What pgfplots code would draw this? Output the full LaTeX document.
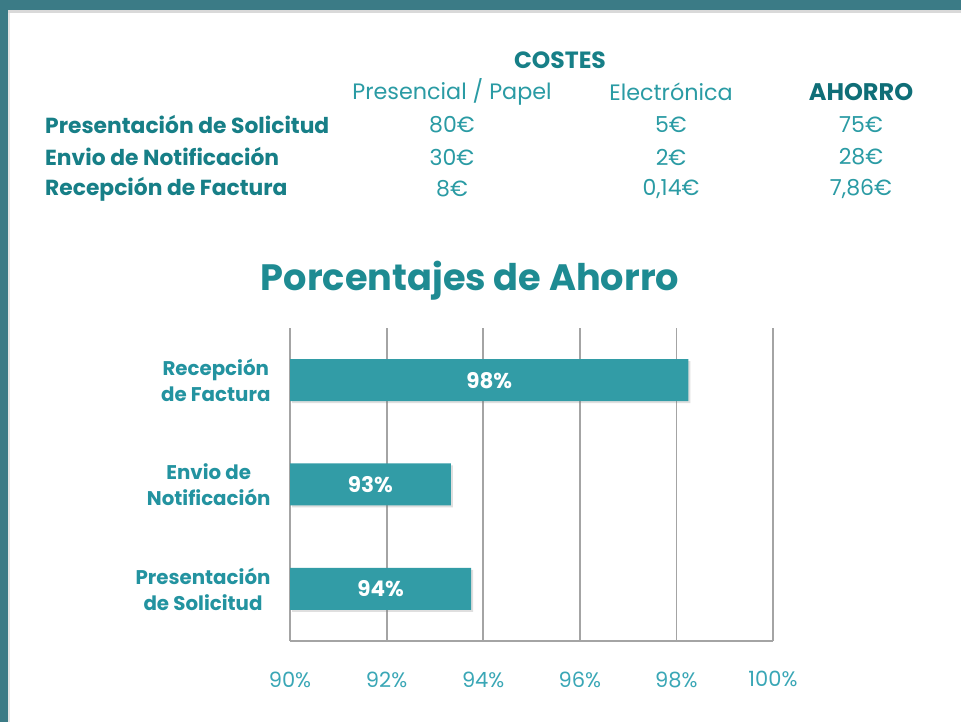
\documentclass[border=0pt]{standalone}
\usepackage{pgfplots}
\pgfplotsset{compat=1.18}
\usepackage{fontspec}
\setmainfont{Poppins}
\usetikzlibrary{shadows}
\definecolor{frame}{HTML}{3B7B86}
\definecolor{boldteal}{HTML}{177F87}
\definecolor{darkteal}{HTML}{0F6E77}
\definecolor{regteal}{HTML}{2A9BA4}
\definecolor{titleteal}{HTML}{1E8B92}
\definecolor{ylab}{HTML}{2393A0}
\definecolor{xlab}{HTML}{3AA7B6}
\definecolor{barc}{HTML}{329CA6}
\definecolor{gridc}{HTML}{A4A4A4}
\begin{document}
\begin{tikzpicture}[x=1pt,y=1pt]
\useasboundingbox (0,0) rectangle (961,722);
\fill[white] (0,0) rectangle (961,722);
\fill[frame] (0,712) rectangle (961,722);
\fill[frame] (0,0) rectangle (8,722);
\fill[black!15] (8,709) rectangle (961,712);
\fill[black!10] (8,0) rectangle (10,709);
% table
\node[font=\bfseries\fontsize{23.5}{26}\selectfont, text=boldteal] at (560,662) {COSTES};
\node[font=\fontsize{22.3}{26}\selectfont, text=regteal] at (452,630) {Presencial / Papel};
\node[font=\fontsize{22.3}{26}\selectfont, text=regteal] at (671,630) {Electrónica};
\node[font=\bfseries\fontsize{24}{26}\selectfont, text=darkteal] at (861,630) {AHORRO};
\node[font=\bfseries\fontsize{21.8}{26}\selectfont, text=boldteal, anchor=west, inner sep=0pt] at (45,597) {Presentación de Solicitud};
\node[font=\bfseries\fontsize{21.8}{26}\selectfont, text=boldteal, anchor=west, inner sep=0pt] at (45,565) {Envio de Notificación};
\node[font=\bfseries\fontsize{21.8}{26}\selectfont, text=boldteal, anchor=west, inner sep=0pt] at (45,533) {Recepción de Factura};
\foreach \y/\a/\b/\c in {597/80€/5€/75€, 565/30€/2€/28€, 533/8€/{0,14€}/{7,86€}}{
  \node[font=\fontsize{22}{26}\selectfont, text=regteal] at (452,\y) {\a};
  \node[font=\fontsize{22}{26}\selectfont, text=regteal] at (671,\y) {\b};
  \node[font=\fontsize{22}{26}\selectfont, text=regteal] at (861,\y) {\c};
}
\node[font=\bfseries\fontsize{36.7}{42}\selectfont, text=titleteal] at (470,441) {Porcentajes de Ahorro};
\begin{axis}[
  at={(290pt,81pt)}, anchor=south west,
  scale only axis, width=483pt, height=313pt,
  xmin=90, xmax=100, ymin=-0.5, ymax=2.5,
  xbar, bar width=42pt, bar shift=0pt,
  xtick={90,92,94,96,98,100},
  xticklabels={90\%,92\%,94\%,96\%,98\%,100\%},
  ytick={0,1,2},
  yticklabels={{Presentación\\de Solicitud},{Envio de\\Notificación},{Recepción\\de Factura}},
  major tick length=0pt,
  axis x line*=bottom, axis y line*=left,
  axis line style={-, draw=gridc, line width=1.8pt},
  xmajorgrids, major grid style={draw=gridc, line width=1.8pt},
  xticklabel style={font=\fontsize{21}{24}\selectfont, text=xlab, yshift=-27pt},
  yticklabel style={font=\bfseries\fontsize{19.8}{26}\selectfont, text=ylab, align=center, xshift=-16pt},
]
\addplot[fill=barc, draw=none, drop shadow={shadow xshift=2pt, shadow yshift=-2pt, opacity=0.25}] coordinates {(93.75,0) (93.33,1) (98.25,2)};
\node[font=\bfseries\fontsize{21.5}{24}\selectfont, text=white] at (axis cs:91.875,0) {94\%};
\node[font=\bfseries\fontsize{21.5}{24}\selectfont, text=white] at (axis cs:91.665,1) {93\%};
\node[font=\bfseries\fontsize{21.5}{24}\selectfont, text=white] at (axis cs:94.125,2) {98\%};
\end{axis}
\end{tikzpicture}
\end{document}
